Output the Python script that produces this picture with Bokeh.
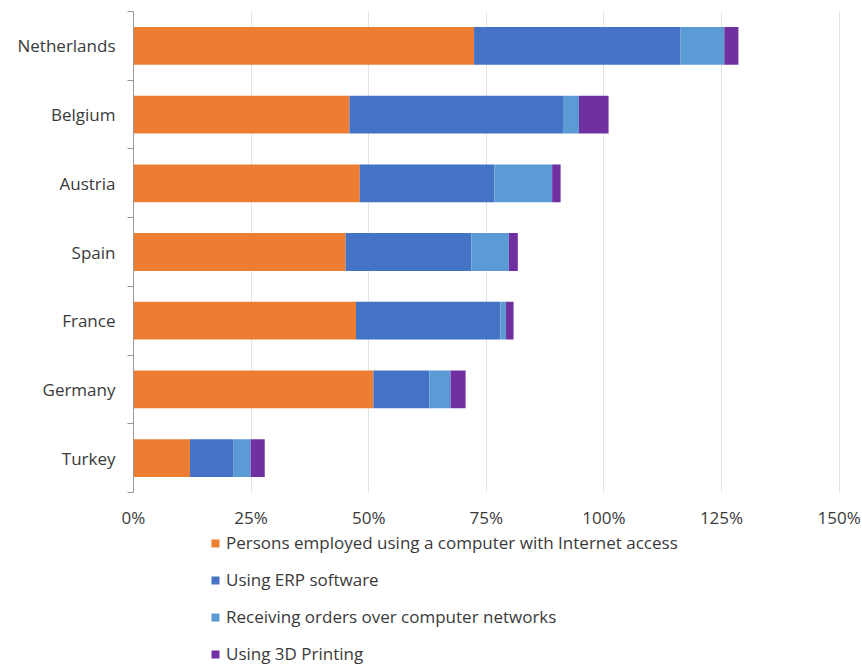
from bokeh.plotting import figure
from bokeh.layouts import column
from bokeh.models import (FixedTicker, PrintfTickFormatter, Legend, LegendItem, Range1d)
from bokeh.embed import file_html
from bokeh.resources import INLINE

countries = ["Netherlands", "Belgium", "Austria", "Spain", "France", "Germany", "Turkey"]
internet = [72.4, 45.9, 48.1, 45.1, 47.3, 51.0, 12.0]
erp = [43.9, 45.4, 28.6, 26.7, 30.7, 11.9, 9.3]
orders = [9.3, 3.4, 12.3, 8.0, 1.2, 4.5, 3.6]
printing = [3.0, 6.3, 1.8, 1.9, 1.6, 3.2, 3.0]
series_names = ["Persons employed using a computer with Internet access",
                "Using ERP software",
                "Receiving orders over computer networks",
                "Using 3D Printing"]
colors = ["#ED7D31", "#4472C4", "#5B9BD5", "#7030A0"]
x_ticks = [0, 25, 50, 75, 100, 125, 150]

n = len(countries)
ypos = [n - 0.5 - i for i in range(n)]
data = dict(y=ypos, s0=internet, s1=erp, s2=orders, s3=printing)

FONT = "Open Sans"
TXT = "#3a3a3a"
FS = "17px"

p = figure(width=862, height=531, output_backend="svg", toolbar_location=None,
           x_range=Range1d(0, 150.3), y_range=Range1d(0, n),
           min_border_left=133, min_border_top=11, min_border_right=22,
           min_border_bottom=38)

renderers = p.hbar_stack(["s0", "s1", "s2", "s3"], y="y", height=0.55,
                         color=colors, source=data, line_color=None)

p.outline_line_color = None
p.ygrid.grid_line_color = None
p.xgrid.grid_line_color = "#e3e3e3"
p.xgrid.grid_line_width = 1

xa = p.xaxis[0]
xa.ticker = FixedTicker(ticks=x_ticks)
xa.formatter = PrintfTickFormatter(format="%d%%")
xa.axis_line_color = None
xa.major_tick_line_color = None
xa.minor_tick_line_color = None
xa.major_label_text_font = FONT
xa.major_label_text_font_size = FS
xa.major_label_text_color = TXT
xa.major_label_standoff = 7

ya = p.yaxis[0]
ya.ticker = FixedTicker(ticks=ypos, minor_ticks=list(range(n + 1)))
ya.major_label_overrides = {y: c for y, c in zip(ypos, countries)}
ya.major_tick_line_color = None
ya.minor_tick_out = 6
ya.minor_tick_in = 0
ya.minor_tick_line_color = "#999999"
ya.axis_line_color = "#999999"
ya.major_label_text_font = FONT
ya.major_label_text_font_size = FS
ya.major_label_text_color = TXT
ya.major_label_standoff = 12

# legend panel below the chart (its frame is aligned with the main frame)
lg = figure(width=862, height=133, output_backend="svg", toolbar_location=None,
            x_range=Range1d(0, 1), y_range=Range1d(0, 1),
            x_axis_type=None, y_axis_type=None,
            min_border_left=133, min_border_right=22, min_border_top=0, min_border_bottom=0)
lg.outline_line_color = None
lg.xgrid.visible = False
lg.ygrid.visible = False
dummies = [lg.hbar(y=[-1], left=[0], right=[0], height=0.5, color=c, line_color=None)
           for c in colors]
items = [LegendItem(label=nm, renderers=[r]) for nm, r in zip(series_names, dummies)]
legend = Legend(items=items, orientation="vertical", location=(77, -1),
                label_text_font=FONT, label_text_font_size=FS,
                label_text_color=TXT, glyph_width=10, glyph_height=10,
                label_height=16, spacing=14, padding=0, margin=0,
                label_standoff=6, border_line_color=None,
                background_fill_alpha=0)
lg.add_layout(legend, "center")

layout = column(p, lg, spacing=0)
open("out.html", "w").write(file_html(layout, INLINE))
